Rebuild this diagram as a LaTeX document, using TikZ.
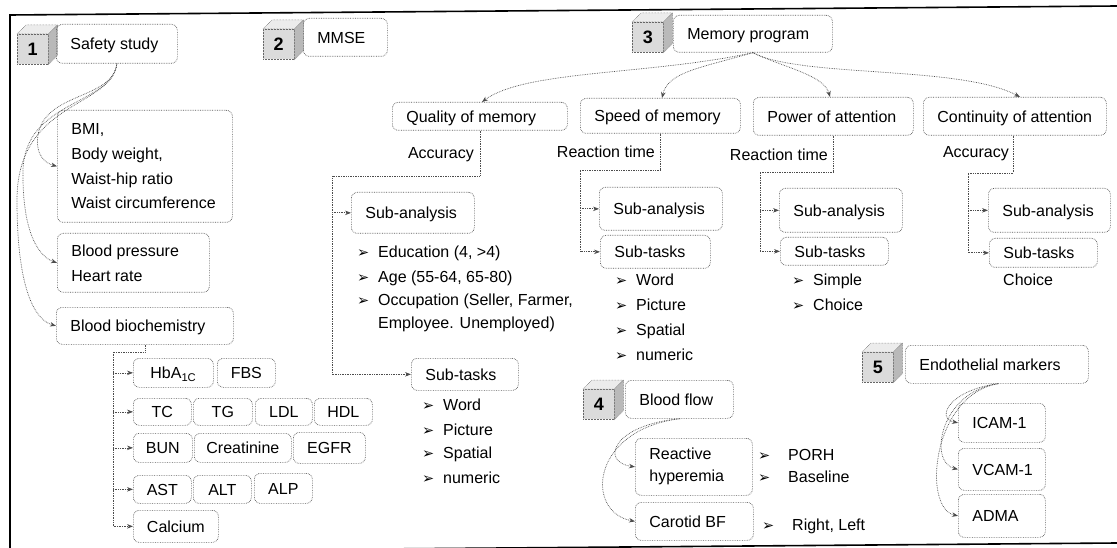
\documentclass[tikz,border=0pt]{standalone}
\usepackage{fontspec}
\setmainfont{Liberation Sans}
\newfontfamily\dejavu{DejaVu Sans}
\usetikzlibrary{arrows.meta}
\newcommand\bul[1][21]{\makebox[#1pt][l]{\dejavu\fontsize{14.5}{14.5}\selectfont ➢}}
\newcommand\lt[2]{\makebox[\dimexpr#1pt-28pt\relax][l]{#2}}
\newcommand\mycube[4]{%
  \node[cubef] (#1) at (#2,#3+9) {#4};
  \filldraw[cubetop] (#1.north west) -- ++(9,-9) -- ([shift={(9,-9)}]#1.north east) -- (#1.north east) -- cycle;
  \filldraw[cubeside] (#1.north east) -- ([shift={(9,-9)}]#1.north east) -- ([shift={(9,-9)}]#1.south east) -- (#1.south east) -- cycle;
}
\tikzset{
  box/.style={draw=black!65, densely dotted, line width=0.7pt, rounded corners=6pt,
    anchor=north west, inner xsep=14pt, inner ysep=0pt},
  sb/.style 2 args={box, minimum width=#1pt, minimum height=#2pt, text height=11.5pt, text depth=0pt},
  cb/.style 2 args={box, inner xsep=1pt, minimum width=#1pt, minimum height=#2pt, text height=11.5pt, text depth=0pt},
  mb/.style 2 args={box, minimum width=#1pt, minimum height=#2pt, align=left},
  cubef/.style={draw=black!60, densely dotted, line width=0.5pt, fill=gray!28, anchor=north west,
    inner sep=0pt, minimum width=31pt, minimum height=30pt, font=\fontsize{18}{18}\selectfont\bfseries},
  cubetop/.style={fill=gray!15, draw=black!60, densely dotted, line width=0.5pt},
  cubeside/.style={fill=gray!55, draw=black!60, densely dotted, line width=0.5pt},
  conn/.style={draw=black!70, densely dotted, line width=0.7pt, -{Stealth[length=6pt,width=4.5pt]}},
  li/.style={anchor=west, inner sep=0pt, text height=11.5pt, text depth=0pt},
  frame/.style={draw=black, line width=1.6pt},
}
\begin{document}
\begin{tikzpicture}[x=1pt, y=-1pt, font=\fontsize{16}{19}\selectfont]
\useasboundingbox (0,0) rectangle (1117,548);
\clip (0,0) rectangle (1117,548);
\fill[white] (0,0) rectangle (1117,548);
\draw[frame] (1117,6) -- (10,15) -- (10,552) -- (1117,543);

% ---------- 1 Safety study ----------
\mycube{n1}{17}{25}{1}
\node[sb={121}{39}] (ss) at (56,24) {\lt{121}{Safety study}};
\node[mb={175}{112}, font=\fontsize{16}{24.7}\selectfont] (bmi) at (57,110)
  {\lt{175}{BMI,}\\\lt{175}{Body weight,}\\\lt{175}{Waist-hip ratio}\\\lt{175}{Waist circumference}};
\node[mb={152}{59}, font=\fontsize{16}{25}\selectfont] (bp) at (57,233)
  {\lt{152}{Blood pressure}\\\lt{152}{Heart rate}};
\node[sb={177}{37}] (bb) at (56,307) {\lt{177}{Blood biochemistry}};

\draw[conn] (ss.south) .. controls (112,100) and (45,92) .. (38,135) .. controls (35,155) and (45,163) .. (bmi.west);
\draw[conn] (ss.south) .. controls (112,105) and (25,100) .. (23,170) .. controls (22,235) and (40,257) .. (bp.west);
\draw[conn] (ss.south) .. controls (112,108) and (17,100) .. (17,200) .. controls (17,290) and (35,320) .. (bb.west);

\node[cb={80}{29}] (hba) at (133,358) {HbA\textsubscript{1C}};
\node[cb={58}{29}] (fbs) at (217,358) {FBS};
\node[cb={58}{27}] (tc) at (133,398) {TC};
\node[cb={59}{27}] (tg) at (193,398) {TG};
\node[cb={57}{27}] (ldl) at (255,398) {LDL};
\node[cb={58}{27}] (hdl) at (314,398) {HDL};
\node[cb={59}{29}] (bun) at (133,433) {BUN};
\node[cb={97}{29}] (cre) at (194,433) {Creatinine};
\node[cb={72}{31}] (egfr) at (293,432) {EGFR};
\node[cb={58}{28}] (ast) at (133,475) {AST};
\node[cb={58}{28}] (alt) at (193,475) {ALT};
\node[cb={58}{30}] (alp) at (254,473) {ALP};
\node[cb={85}{32}] (cal) at (133,510) {Calcium};

\draw[conn] (145,0 |- bb.south) |- (113,352) |- (cal.west);
\draw[conn] (113,0 |- hba.west) -- (hba.west);
\draw[conn] (113,0 |- tc.west) -- (tc.west);
\draw[conn] (113,0 |- bun.west) -- (bun.west);
\draw[conn] (113,0 |- ast.west) -- (ast.west);

% ---------- 2 MMSE ----------
\mycube{n2}{263}{20}{2}
\node[sb={84}{38}] (mmse) at (303,18) {\lt{84}{MMSE}};

% ---------- 3 Memory program ----------
\mycube{n3}{632}{13}{3}
\node[sb={159}{37}] (mp) at (673,15) {\lt{159}{Memory program}};
\node[sb={175}{28}] (qm) at (392,102) {\lt{175}{Quality of memory}};
\node[sb={160}{35}] (sm) at (580,98) {\lt{160}{Speed of memory}};
\node[sb={160}{38}] (pa) at (753,97) {\lt{160}{Power of attention}};
\node[sb={183}{38}] (ca) at (923,97) {\lt{183}{Continuity of attention}};

\draw[conn] (mp.south) .. controls (650,75) and (525,70) .. (482,0 |- qm.north);
\draw[conn] (mp.south) .. controls (700,68) and (668,72) .. (662,0 |- sm.north);
\draw[conn] (mp.south) .. controls (785,68) and (824,75) .. (830,0 |- pa.north);
\draw[conn] (mp.south) .. controls (800,78) and (960,65) .. (1020,0 |- ca.north);

% quality of memory
\node[li, anchor=east] (accq) at (474,153) {Accuracy};
\node[sb={123}{41}] (saq) at (351,192) {\lt{123}{Sub-analysis}};
\node[sb={107}{32}] (stq) at (411,358) {\lt{107}{Sub-tasks}};
\draw[conn] (480,0 |- qm.south) |- (332,176) |- (stq.west);
\draw[conn] (332,0 |- saq.west) -- (saq.west);
\node[li] (qa1) at (357,252) {\bul Education (4, >4)};
\node[li] (qa2) at (357,277) {\bul Age (55-64, 65-80)};
\node[li] (qa3) at (357,300) {\bul Occupation (Seller, Farmer,};
\node[li] (qa4) at (378,323) {Employee. Unemployed)};
\node[li] (qt1) at (422,405) {\bul Word};
\node[li] (qt2) at (422,430) {\bul Picture};
\node[li] (qt3) at (422,453) {\bul Spatial};
\node[li] (qt4) at (422,478) {\bul numeric};

% speed of memory
\node[li, anchor=east] (rts) at (655,152) {Reaction time};
\node[sb={123}{43}] (sas) at (599,187) {\lt{123}{Sub-analysis}};
\node[sb={110}{33}] (sts) at (600,235) {\lt{110}{Sub-tasks}};
\draw[conn] (660,0 |- sm.south) |- (580,170) |- (sts.west);
\draw[conn] (580,0 |- sas.west) -- (sas.west);
\node[li] (st1) at (615,280) {\bul Word};
\node[li] (st2) at (615,305) {\bul Picture};
\node[li] (st3) at (615,330) {\bul Spatial};
\node[li] (st4) at (615,355) {\bul numeric};

% power of attention
\node[li, anchor=east] (rtp) at (828,155) {Reaction time};
\node[sb={123}{44}] (sap) at (779,188) {\lt{123}{Sub-analysis}};
\node[sb={108}{28}] (stp) at (780,237) {\lt{108}{Sub-tasks}};
\draw[conn] (833,0 |- pa.south) |- (760,172) |- (stp.west);
\draw[conn] (760,0 |- sap.west) -- (sap.west);
\node[li] (pt1) at (792,280) {\bul Simple};
\node[li] (pt2) at (792,305) {\bul Choice};

% continuity of attention
\node[li, anchor=east] (accc) at (1009,152) {Accuracy};
\node[sb={122}{44}] (sac) at (988,188) {\lt{122}{Sub-analysis}};
\node[sb={108}{29}] (stc) at (989,238) {\lt{108}{Sub-tasks}};
\draw[conn] (1013,0 |- ca.south) |- (968,173) |- (stc.west);
\draw[conn] (968,0 |- sac.west) -- (sac.west);
\node[li] (chc) at (1003,280) {Choice};

% ---------- 4 Blood flow ----------
\mycube{n4}{583}{380}{4}
\node[sb={108}{38}] (bf) at (625,380) {\lt{108}{Blood flow}};
\node[mb={117}{57}, font=\fontsize{16}{22}\selectfont] (rh) at (635,438)
  {\lt{117}{Reactive}\\\lt{117}{hyperemia}};
\node[sb={118}{38}] (cbf) at (635,502) {\lt{118}{Carotid BF}};
\draw[conn] (680,0 |- bf.south) .. controls (612,425) and (600,462) .. (rh.west);
\draw[conn] (680,0 |- bf.south) .. controls (590,430) and (585,512) .. (cbf.west);
\node[li] (bf1) at (758,455) {\bul[30]PORH};
\node[li] (bf2) at (758,477) {\bul[30]Baseline};
\node[li] (bf3) at (762,525) {\bul[30]Right, Left};

% ---------- 5 Endothelial markers ----------
\mycube{n5}{862}{343}{5}
\node[sb={183}{38}] (em) at (905,345) {\lt{183}{Endothelial markers}};
\node[sb={87}{39}] (icam) at (958,403) {\lt{87}{ICAM-1}};
\node[sb={87}{42}] (vcam) at (958,448) {\lt{87}{VCAM-1}};
\node[sb={87}{43}] (adma) at (958,494) {\lt{87}{ADMA}};
\draw[conn] (998,0 |- em.south) .. controls (950,390) and (935,418) .. (icam.west);
\draw[conn] (998,0 |- em.south) .. controls (940,392) and (928,462) .. (vcam.west);
\draw[conn] (998,0 |- em.south) .. controls (932,395) and (922,508) .. (adma.west);
\end{tikzpicture}
\end{document}
